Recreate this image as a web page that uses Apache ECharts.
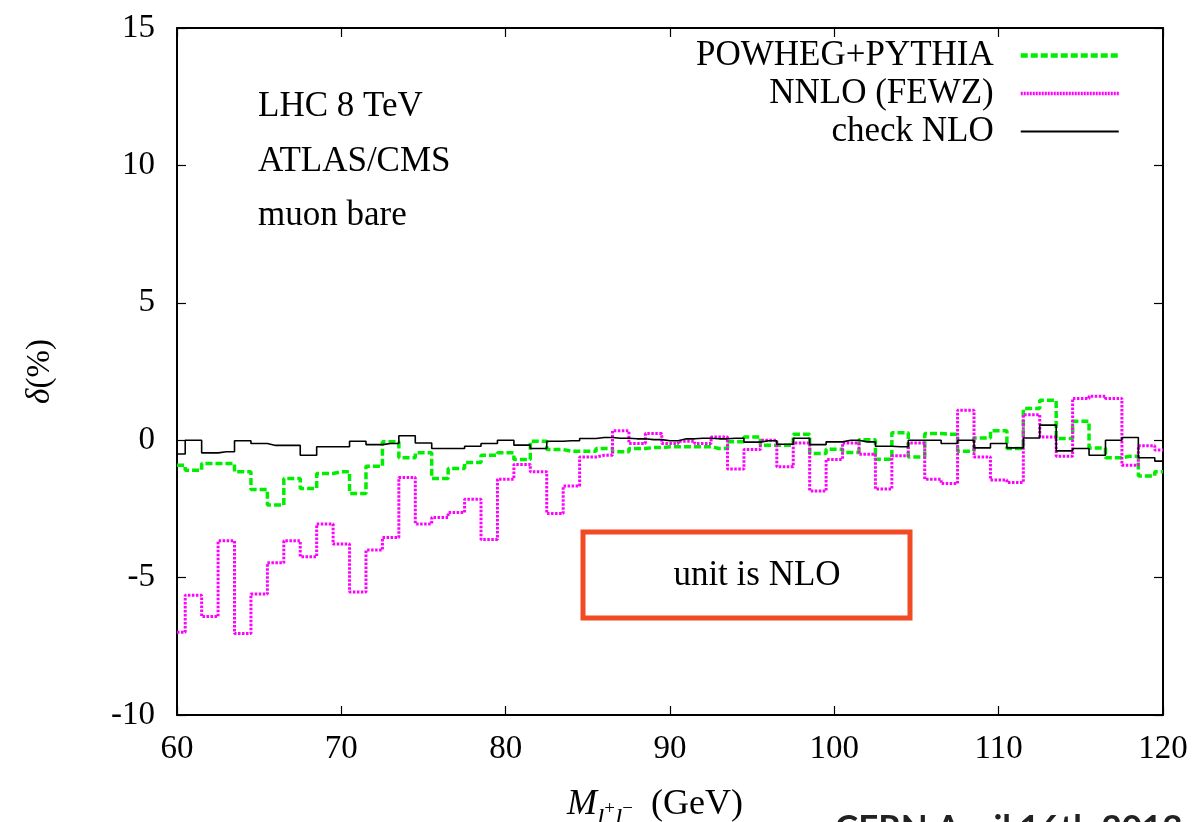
<!DOCTYPE html>
<html><head><meta charset="utf-8">
<script src="https://cdn.jsdelivr.net/npm/echarts@6/dist/echarts.min.js"></script>
<style>html,body{margin:0;padding:0;background:#fff;overflow:hidden}#c{width:1200px;height:822px;}</style>
</head><body><div id="c"></div>
<script>
const mass = [60,61,62,63,64,65,66,67,68,69,70,71,72,73,74,75,76,77,78,79,80,81,82,83,84,85,86,87,88,89,90,91,92,93,94,95,96,97,98,99,100,101,102,103,104,105,106,107,108,109,110,111,112,113,114,115,116,117,118,119,120];
const powheg = [-0.91,-1.09,-0.85,-0.85,-1.15,-1.79,-2.36,-1.39,-1.76,-1.21,-1.15,
  -1.94,-0.95,-0.06,-0.64,-0.46,-1.39,-1.03,-0.81,-0.55,-0.46,
  -0.70,-0.04,-0.34,-0.40,-0.40,-0.30,-0.42,-0.30,-0.27,-0.24,
  -0.24,-0.24,-0.30,-0.06,0.12,-0.18,-0.18,0.22,-0.48,-0.33,
  -0.45,0.02,-0.69,0.27,-0.61,0.24,0.22,-0.40,0.08,0.34,
  -0.30,1.15,1.45,0.06,0.69,-0.28,-0.64,-0.58,-1.30,-1.15];
const nnlo = [-6.99,-5.64,-6.42,-3.66,-7.03,-5.60,-4.46,-3.66,-4.24,-3.05,-3.78,
  -5.52,-4.00,-3.54,-1.36,-3.05,-2.81,-2.63,-2.15,-3.61,-1.42,
  -0.88,-1.15,-2.67,-1.67,-0.61,-0.55,0.34,-0.12,0.24,-0.12,
  -0.04,-0.12,0.12,-1.05,-0.34,0.00,-0.97,-0.10,-1.85,-0.70,
  -0.10,-0.51,-1.78,-0.57,-0.10,-1.42,-1.58,1.09,-0.61,-1.45,
  -1.54,0.93,0.12,-0.58,1.52,1.60,1.52,-0.91,-0.20,-0.36];
const nlo = [-0.50,0.00,-0.46,-0.42,-0.02,-0.12,-0.19,-0.19,-0.55,-0.24,-0.24,
  -0.04,-0.16,-0.12,0.16,-0.10,-0.30,-0.30,-0.22,-0.12,0.00,
  -0.18,-0.30,-0.04,-0.02,0.06,0.10,0.07,0.05,0.02,-0.02,
  0.05,0.07,0.05,0.07,-0.07,-0.02,-0.15,0.07,-0.16,-0.06,
  0.00,-0.06,-0.22,-0.24,0.00,0.00,-0.12,0.00,-0.28,-0.12,
  -0.28,0.08,0.55,-0.39,-0.30,-0.55,0.00,0.10,-0.64,-0.76];
const seriesNames = ['POWHEG+PYTHIA','NNLO (FEWZ)','check NLO'];
const infoLines = ['LHC 8 TeV','ATLAS/CMS','muon bare'];

const FONT = '"Liberation Serif", "DejaVu Serif", serif';
const FS = 33;
const FT = 35;
const pairs = arr => mass.map((m,i)=>[m, arr[i]]);

const axisCommon = {
  axisLine:{show:true, onZero:false, lineStyle:{color:'#000', width:2}},
  axisTick:{show:true, inside:true, length:9, lineStyle:{color:'#000', width:1.2}},
  splitLine:{show:false}
};

const chart = echarts.init(document.getElementById('c'), null, {renderer:'canvas'});
chart.setOption({
  animation:false,
  backgroundColor:'#fff',
  grid:{left:177, right:37, top:28, bottom:107, outerBoundsMode:'none', containLabel:false},
  xAxis:[
    Object.assign({type:'value', min:60, max:120, interval:10, position:'bottom',
      axisLabel:{color:'#000', fontFamily:FONT, fontSize:FS, margin:18}
    }, axisCommon),
    Object.assign({type:'value', min:60, max:120, interval:10, position:'top', axisLabel:{show:false}}, axisCommon)
  ],
  yAxis:[
    Object.assign({type:'value', min:-10, max:15, interval:5, position:'left',
      axisLabel:{color:'#000', fontFamily:FONT, fontSize:FS, margin:22},
      name:'{d|δ}(%)', nameLocation:'middle', nameGap:120, nameRotate:90,
      nameTextStyle:{fontFamily:FONT, fontSize:FS, color:'#000', rich:{d:{fontFamily:FONT, fontSize:FS, fontStyle:'italic', color:'#000'}}}
    }, axisCommon),
    Object.assign({type:'value', min:-10, max:15, interval:5, position:'right', axisLabel:{show:false}}, axisCommon)
  ],
  legend:{
    orient:'vertical', right:79, top:38, align:'right', padding:0,
    itemWidth:98, itemHeight:14, itemGap:3,
    itemStyle:{opacity:0},
    textStyle:{fontFamily:FONT, fontSize:FT, color:'#000', padding:[0,22,0,0]},
    data:[
      {name:seriesNames[0], lineStyle:{width:4.5, type:[7,3]}, itemStyle:{opacity:0}},
      {name:seriesNames[1], lineStyle:{width:3.5, type:[2,1]}, itemStyle:{opacity:0}},
      {name:seriesNames[2], lineStyle:{width:1.8}, itemStyle:{opacity:0}}
    ]
  },
  series:[
    {type:'line', name:seriesNames[0], data:pairs(powheg), step:'middle', symbol:'none', z:2,
      itemStyle:{color:'#00ee00'}, lineStyle:{color:'#00ee00', width:3.5, type:[7,3]}},
    {type:'line', name:seriesNames[1], data:pairs(nnlo), step:'middle', symbol:'none', z:3,
      itemStyle:{color:'#ff00ff'}, lineStyle:{color:'#ff00ff', width:3, type:[2.5,1.5]}},
    {type:'line', name:seriesNames[2], data:pairs(nlo), step:'middle', symbol:'none', z:4,
      itemStyle:{color:'#000'}, lineStyle:{color:'#000', width:1.6}}
  ],
  graphic:[
    {type:'text', left:258, top:89, style:{text:infoLines[0], font:FT+'px '+FONT, fill:'#000'}},
    {type:'text', left:258, top:144, style:{text:infoLines[1], font:FT+'px '+FONT, fill:'#000'}},
    {type:'text', left:258, top:198, style:{text:infoLines[2], font:FT+'px '+FONT, fill:'#000'}},
    {type:'rect', shape:{x:583, y:532, width:327, height:86}, style:{fill:'none', stroke:'#f24b24', lineWidth:5}, z:10},
    {type:'text', x:757, y:576, style:{text:'unit is NLO', font:FT+'px '+FONT, fill:'#000', textAlign:'center', textVerticalAlign:'middle'}, z:10},
    {type:'text', x:655, y:832, style:{
      text:'{m|M}{s|l}{p|+}{s|l}{p|−}{g|  (GeV)}', textAlign:'center', textVerticalAlign:'bottom',
      rich:{
        m:{fontFamily:FONT, fontSize:36, fontStyle:'italic', fill:'#000', verticalAlign:'bottom', padding:[0,0,9,0]},
        s:{fontFamily:FONT, fontSize:26, fontStyle:'italic', fill:'#000', verticalAlign:'bottom'},
        p:{fontFamily:FONT, fontSize:19, fill:'#000', verticalAlign:'bottom', padding:[0,0,13,0]},
        g:{fontFamily:FONT, fontSize:36, fill:'#000', verticalAlign:'bottom', padding:[0,0,9,0]}
      }}},
    {type:'text', left:835, top:811, style:{text:'CERN April 16th 2013', font:'bold 35px Lato, "Open Sans", sans-serif', fill:'#222'}}
  ]
});
</script>
</body></html>
